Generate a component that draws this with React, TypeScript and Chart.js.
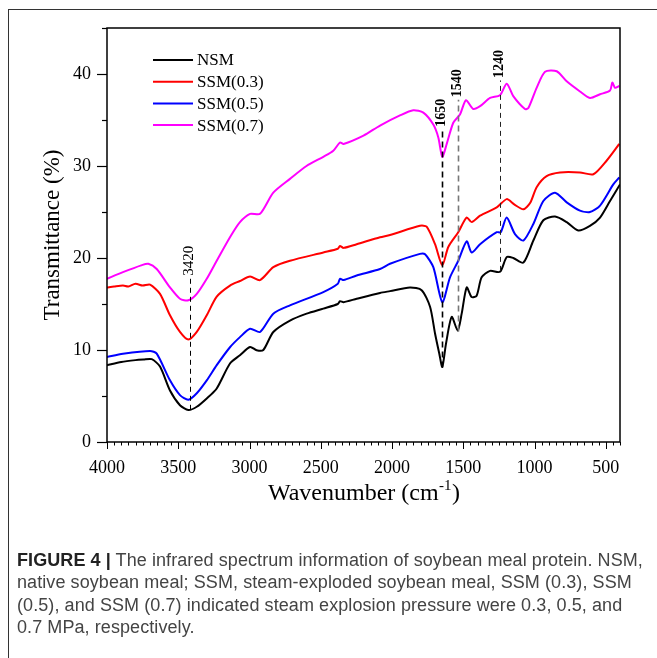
import React, { useEffect, useRef } from "react";
import { Chart, registerables } from "chart.js";

Chart.register(...registerables);

// ---------- data ----------
const seriesLabels = ["NSM", "SSM(0.3)", "SSM(0.5)", "SSM(0.7)"];

const nsmWave = [4000, 3900, 3800, 3745, 3686, 3628, 3558, 3488, 3429, 3370, 3300, 3230, 3137, 3067, 2996, 2950, 2903, 2833, 2716, 2599, 2482, 2380, 2365, 2340, 2248, 2084, 2014, 1874, 1792, 1733, 1698, 1668, 1647, 1621, 1581, 1539, 1511, 1476, 1441, 1406, 1371, 1312, 1242, 1195, 1149, 1078, 1008, 938, 856, 774, 693, 611, 540, 470, 400];
const nsmT = [8.35, 8.7, 8.9, 8.96, 9.0, 8.2, 5.6, 4.0, 3.47, 3.83, 4.73, 5.82, 8.53, 9.43, 10.33, 9.97, 10.0, 11.96, 13.2, 13.95, 14.5, 15.0, 15.3, 15.2, 15.57, 16.2, 16.4, 16.8, 16.5, 14.7, 11.8, 9.6, 8.16, 10.7, 13.6, 12.1, 13.95, 16.8, 15.75, 15.9, 17.9, 18.6, 18.5, 20.1, 20.0, 19.5, 21.9, 24.1, 24.5, 23.9, 23.0, 23.5, 24.4, 26.2, 28.0];

const ssm03Wave = [4000, 3950, 3888, 3850, 3800, 3750, 3698, 3628, 3558, 3488, 3429, 3370, 3300, 3230, 3137, 3067, 2996, 2926, 2833, 2716, 2482, 2380, 2365, 2340, 2248, 2084, 2014, 1804, 1757, 1698, 1647, 1605, 1535, 1476, 1441, 1382, 1265, 1195, 1140, 1078, 1030, 985, 915, 821, 681, 587, 493, 405];
const ssm03T = [16.8, 16.9, 17.0, 16.9, 17.2, 17.0, 17.1, 16.1, 13.77, 11.96, 11.13, 11.96, 13.77, 15.8, 17.0, 17.5, 18.0, 17.6, 19.0, 19.7, 20.6, 21.0, 21.3, 21.1, 21.5, 22.26, 22.5, 23.5, 23.4, 21.5, 19.2, 21.2, 22.8, 24.4, 23.9, 24.6, 25.5, 26.4, 25.8, 25.3, 26.0, 27.7, 28.9, 29.3, 29.3, 29.1, 30.6, 32.4];

const ssm05Wave = [4000, 3888, 3698, 3651, 3558, 3488, 3429, 3370, 3300, 3230, 3137, 3067, 2996, 2926, 2833, 2716, 2482, 2380, 2365, 2340, 2248, 2084, 2014, 1804, 1768, 1710, 1647, 1593, 1535, 1476, 1441, 1382, 1265, 1237, 1195, 1137, 1078, 1008, 938, 856, 774, 681, 611, 540, 447, 405];
const ssm05T = [9.25, 9.6, 9.9, 9.6, 6.7, 5.1, 4.6, 5.3, 6.7, 8.35, 10.3, 11.4, 12.3, 11.96, 13.95, 14.85, 16.3, 17.2, 17.74, 17.6, 18.1, 18.8, 19.37, 20.45, 20.4, 19.0, 15.2, 17.9, 19.7, 21.8, 20.6, 21.5, 22.8, 22.8, 24.4, 22.6, 21.9, 23.7, 26.2, 27.1, 26.05, 25.15, 25.0, 25.7, 28.0, 28.75];

const ssm07Wave = [4000, 3888, 3760, 3710, 3651, 3558, 3488, 3429, 3370, 3300, 3230, 3137, 3067, 2996, 2926, 2833, 2716, 2600, 2482, 2412, 2365, 2340, 2200, 2084, 1944, 1851, 1780, 1710, 1675, 1647, 1616, 1570, 1523, 1481, 1430, 1382, 1312, 1242, 1195, 1149, 1067, 1043, 985, 926, 844, 774, 681, 611, 540, 470, 454, 435, 405];
const ssm07T = [17.74, 18.46, 19.2, 19.37, 18.8, 16.8, 15.57, 15.4, 16.1, 17.74, 19.7, 22.26, 23.9, 24.8, 24.8, 27.1, 28.6, 30.0, 31.0, 31.65, 32.55, 32.4, 33.3, 34.4, 35.5, 36.06, 35.8, 34.5, 33.1, 31.0, 32.4, 34.7, 35.6, 37.15, 36.2, 36.5, 37.4, 37.7, 38.95, 37.6, 36.2, 36.3, 38.5, 40.25, 40.3, 39.2, 38.1, 37.4, 37.8, 38.2, 39.06, 38.5, 38.7];

const xTickValues = [4000, 3500, 3000, 2500, 2000, 1500, 1000, 500];
const yTickValues = [0, 10, 20, 30, 40];
const peakWaves = [3420, 1650, 1540, 1240];
// vertical extent of each peak marker (transmittance), and label centre
const peakFrom = [3.5, 8.1, 12.0, 18.6];
const peakTo = [17.8, 34.1, 37.2, 39.3];
const peakLabelAt = [19.7, 35.8, 39.0, 41.1];

// ---------- styles ----------
const seriesColors = ["#000000", "#ff0000", "#0000ff", "#ff00ff"];
const peakStyles = [
  { color: "#000", width: 1, dash: [5, 4], bold: false, size: 15 },
  { color: "#000", width: 1.6, dash: [6, 4], bold: true, size: 14 },
  { color: "#777", width: 1.6, dash: [6, 4], bold: true, size: 14 },
  { color: "#222", width: 1, dash: [5, 4], bold: true, size: 14 },
];
const SERIF = '"Liberation Serif", "Times New Roman", serif';

const overlay = {
  id: "overlay",
  afterDraw(chart: any) {
    const ctx = chart.ctx as CanvasRenderingContext2D;
    const xs = chart.scales.x;
    const ys = chart.scales.y;
    const { left, right, top, bottom } = chart.chartArea;
    ctx.save();

    // peak markers
    peakWaves.forEach((w, i) => {
      const st = peakStyles[i];
      const px = Math.round(xs.getPixelForValue(w)) + 0.5;
      ctx.strokeStyle = st.color;
      ctx.lineWidth = st.width;
      ctx.setLineDash(st.dash);
      ctx.beginPath();
      ctx.moveTo(px, ys.getPixelForValue(peakFrom[i]));
      ctx.lineTo(px, ys.getPixelForValue(peakTo[i]));
      ctx.stroke();
      ctx.setLineDash([]);
      ctx.save();
      ctx.translate(px - 1, ys.getPixelForValue(peakLabelAt[i]));
      ctx.rotate(-Math.PI / 2);
      ctx.fillStyle = "#000";
      ctx.font = `${st.bold ? "bold " : ""}${st.size}px ${SERIF}`;
      ctx.textAlign = "center";
      ctx.textBaseline = "middle";
      ctx.fillText(String(w), 0, 0);
      ctx.restore();
    });

    // plot box
    ctx.strokeStyle = "#000";
    ctx.lineWidth = 1.5;
    ctx.strokeRect(left, top, right - left, bottom - top);

    // y ticks (outward)
    ctx.lineWidth = 1.2;
    for (let v = 0; v <= 45; v += 5) {
      const py = Math.round(ys.getPixelForValue(v)) + 0.5;
      const len = v % 10 === 0 ? 10 : 5;
      ctx.beginPath();
      ctx.moveTo(left - len, py);
      ctx.lineTo(left, py);
      ctx.stroke();
    }
    // x ticks (outward)
    ctx.lineWidth = 1;
    for (let v = 4000; v >= 400; v -= 50) {
      const px = Math.round(xs.getPixelForValue(v)) + 0.5;
      const len = v % 500 === 0 ? 7 : 3.5;
      ctx.beginPath();
      ctx.moveTo(px, bottom);
      ctx.lineTo(px, bottom + len);
      ctx.stroke();
    }

    // legend
    const ds = chart.data.datasets;
    ds.forEach((d: any, i: number) => {
      const y = 60 + i * 21.7;
      ctx.strokeStyle = d.borderColor;
      ctx.lineWidth = 2;
      ctx.beginPath();
      ctx.moveTo(153, y);
      ctx.lineTo(193, y);
      ctx.stroke();
      ctx.fillStyle = "#000";
      ctx.font = `17px ${SERIF}`;
      ctx.textAlign = "left";
      ctx.textBaseline = "middle";
      ctx.fillText(d.label, 197, y + 1);
    });

    // y title
    ctx.save();
    ctx.translate(53, (top + bottom) / 2);
    ctx.rotate(-Math.PI / 2);
    ctx.font = `23px ${SERIF}`;
    ctx.fillStyle = "#000";
    ctx.textAlign = "center";
    ctx.textBaseline = "middle";
    ctx.fillText("Transmittance (%)", 0, 0);
    ctx.restore();

    // x title with superscript
    const main1 = "Wavenumber (cm";
    const sup = "-1";
    const main2 = ")";
    ctx.fillStyle = "#000";
    ctx.textBaseline = "alphabetic";
    ctx.textAlign = "left";
    ctx.font = `24px ${SERIF}`;
    const w1 = ctx.measureText(main1).width;
    const w3 = ctx.measureText(main2).width;
    ctx.font = `15px ${SERIF}`;
    const w2 = ctx.measureText(sup).width;
    const x0 = (left + right) / 2 - (w1 + w2 + w3) / 2;
    const base = 500;
    ctx.font = `24px ${SERIF}`;
    ctx.fillText(main1, x0, base);
    ctx.font = `15px ${SERIF}`;
    ctx.fillText(sup, x0 + w1 + 0.5, base - 10);
    ctx.font = `24px ${SERIF}`;
    ctx.fillText(main2, x0 + w1 + w2 + 1, base);

    ctx.restore();
  },
};

export default function App() {
  const ref = useRef<HTMLCanvasElement | null>(null);

  useEffect(() => {
    if (!ref.current) return;
    const mk = (wave: number[], t: number[]) => wave.map((w, i) => ({ x: w, y: t[i] }));
    const series = [
      mk(nsmWave, nsmT),
      mk(ssm03Wave, ssm03T),
      mk(ssm05Wave, ssm05T),
      mk(ssm07Wave, ssm07T),
    ];
    const chart = new Chart(ref.current, {
      type: "line",
      data: {
        datasets: series.map((d, i) => ({
          label: seriesLabels[i],
          data: d,
          borderColor: seriesColors[i],
          backgroundColor: seriesColors[i],
          borderWidth: 2,
          pointRadius: 0,
          tension: 0.25,
          fill: false,
        })),
      },
      options: {
        responsive: false,
        animation: false,
        events: [],
        layout: { padding: { left: 20, right: 37, top: 28, bottom: 156 } },
        plugins: { legend: { display: false }, tooltip: { enabled: false } },
        scales: {
          x: {
            type: "linear",
            reverse: true,
            min: 400,
            max: 4000,
            afterBuildTicks: (s: any) => {
              s.ticks = xTickValues.map((v) => ({ value: v }));
            },
            afterFit: (s: any) => {
              s.height = 60;
            },
            grid: { display: false, drawTicks: false },
            border: { display: false },
            ticks: {
              autoSkip: false,
              maxRotation: 0,
              padding: 15,
              color: "#000",
              font: { family: SERIF, size: 18 },
              callback: (v: any) => String(v),
            },
          },
          y: {
            type: "linear",
            min: 0,
            max: 45,
            afterBuildTicks: (s: any) => {
              s.ticks = yTickValues.map((v) => ({ value: v }));
            },
            afterFit: (s: any) => {
              s.width = 87;
            },
            grid: { display: false, drawTicks: false },
            border: { display: false },
            ticks: {
              padding: 16,
              color: "#000",
              font: { family: SERIF, size: 18 },
              callback: (v: any) => String(v),
            },
          },
        },
      },
      plugins: [overlay],
    });
    return () => chart.destroy();
  }, []);

  return (
    <div
      style={{
        position: "absolute",
        left: 0,
        top: 0,
        width: 657,
        height: 658,
        overflow: "hidden",
        background: "#fff",
      }}
    >
      <div
        style={{
          position: "absolute",
          left: 8,
          top: 9,
          width: 800,
          height: 800,
          border: "1px solid #333",
        }}
      />
      <canvas
        ref={ref}
        width={657}
        height={658}
        style={{ position: "absolute", left: 0, top: 0, width: 657, height: 658 }}
      />
      <div
        style={{
          position: "absolute",
          left: 17,
          top: 549,
          whiteSpace: "nowrap",
          fontFamily: '"Liberation Sans", Arial, sans-serif',
          fontSize: 18,
          letterSpacing: "0.08px",
          lineHeight: "22.3px",
          color: "#444",
        }}
      >
        <b style={{ color: "#222" }}>FIGURE 4 |</b> The infrared spectrum information of soybean meal protein. NSM,
        <br />
        native soybean meal; SSM, steam-exploded soybean meal, SSM (0.3), SSM
        <br />
        (0.5), and SSM (0.7) indicated steam explosion pressure were 0.3, 0.5, and
        <br />
        0.7 MPa, respectively.
      </div>
    </div>
  );
}
